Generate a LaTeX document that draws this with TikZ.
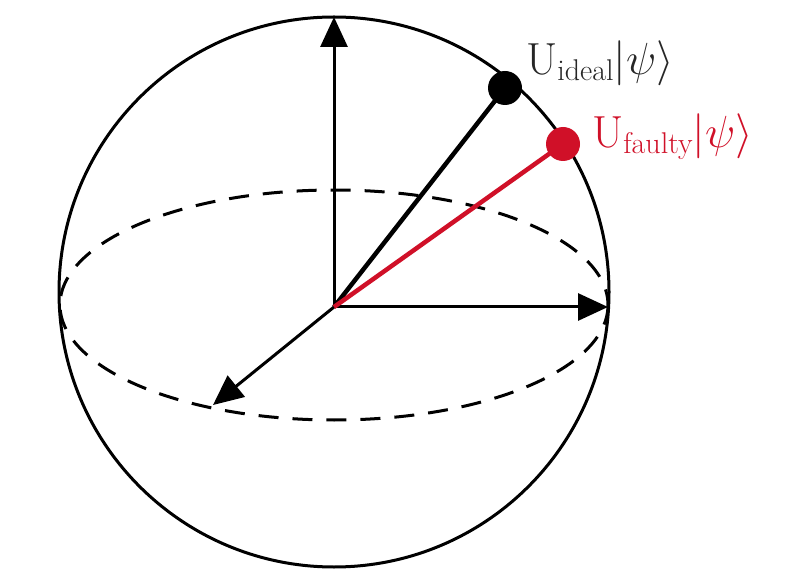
\documentclass[tikz,border=0pt]{standalone}
\usepackage{fix-cm}
\usetikzlibrary{arrows.meta}
\newcommand{\lblsub}[1]{\raisebox{-6pt}{\fontsize{30}{30}\selectfont #1}}
\begin{document}
\begin{tikzpicture}[x=1pt,y=-1pt,
  axis/.style={line width=3pt,-{Triangle[length=30pt,width=27pt]}},
  lbl/.style={font=\fontsize{45}{50}\selectfont,inner sep=0pt,anchor=base west},
  dot/.style={circle,inner sep=0pt,minimum size=34pt}]
\useasboundingbox (0,0) rectangle (790,569);
\definecolor{fred}{RGB}{208,16,40}
\coordinate (O) at (334,307);
\coordinate (C) at (334,292);
\draw[line width=3pt] (C) circle[radius=275];
\draw[line width=3pt,dash pattern=on 20pt off 14pt] (334,305) ellipse[x radius=274,y radius=115];
\coordinate (ztip) at (334,17);
\coordinate (xtip) at (608,307);
\coordinate (ytip) at (213,405);
\draw[axis] (O) -- (ztip);
\draw[axis] (O) -- (xtip);
\draw[axis] (O) -- (ytip);
\node[dot,fill=black] (ideal) at (505,88) {};
\node[dot,fill=fred] (faulty) at (563,144) {};
\draw[line width=4.5pt] (O) -- (ideal.center);
\draw[line width=4.5pt,fred] (O) -- (faulty.center);
\node[lbl,text=black!85] (li) at (526,75) {U\lblsub{ideal}$|\psi\rangle$};
\node[lbl,text=fred] (lf) at (592,148) {U\lblsub{faulty}$|\psi\rangle$};
\end{tikzpicture}
\end{document}
